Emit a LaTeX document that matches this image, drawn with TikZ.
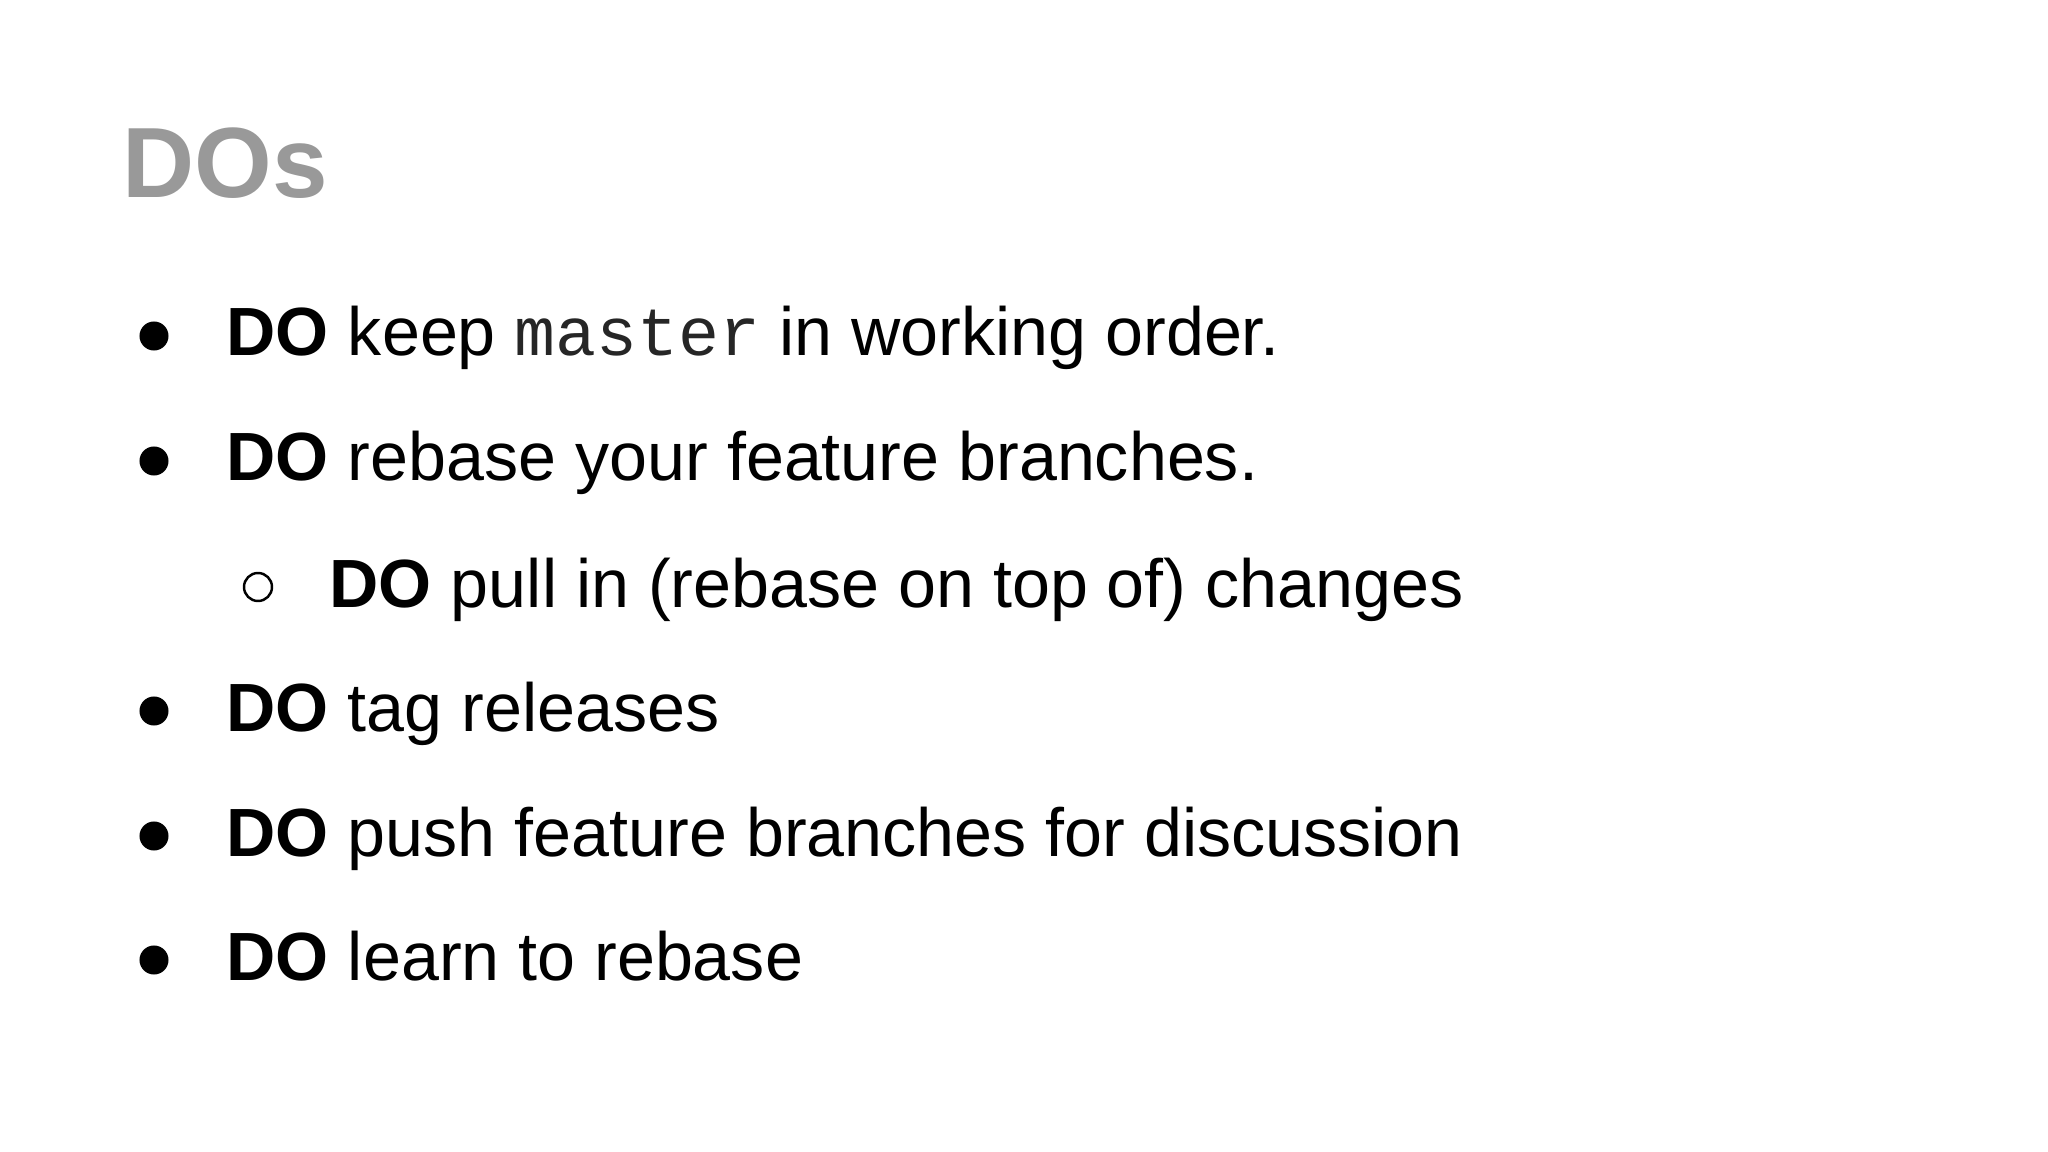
\documentclass[tikz,border=0pt]{standalone}
\usepackage{fontspec}
\setmainfont{Liberation Sans}
\setmonofont{Liberation Mono}
\begin{document}
\begin{tikzpicture}[x=0.01cm,y=-0.01cm,
  txt/.style={anchor=base west,inner sep=0pt,font=\fontsize{19.4}{24}\selectfont},
  dot/.style={circle,fill=black,minimum size=0.29cm,inner sep=0pt},
  odot/.style={circle,draw=black,line width=0.7pt,minimum size=0.28cm,inner sep=0pt}]
\fill[white] (0,0) rectangle (2048,1152);
\node[anchor=base west,inner sep=0pt,text=black!40,font=\fontsize{28.4}{34}\selectfont\bfseries] (title) at (122,198) {DOs};
\node[txt] (l1) at (226,356) {\textbf{DO} keep {\ttfamily\color{black!85}master} in working order.};
\node[txt] (l2) at (226,481) {\textbf{DO} rebase your feature branches.};
\node[txt] (l3) at (329,607) {\textbf{DO} pull in (rebase on top of) changes};
\node[txt] (l4) at (226,731) {\textbf{DO} tag releases};
\node[txt] (l5) at (226,856) {\textbf{DO} push feature branches for discussion};
\node[txt] (l6) at (226,980) {\textbf{DO} learn to rebase};
\node[dot] (b1) at (154,336) {};
\node[dot] (b2) at (154,461) {};
\node[odot] (b3) at (258,587) {};
\node[dot] (b4) at (154,711) {};
\node[dot] (b5) at (154,836) {};
\node[dot] (b6) at (154,960) {};
\end{tikzpicture}
\end{document}
